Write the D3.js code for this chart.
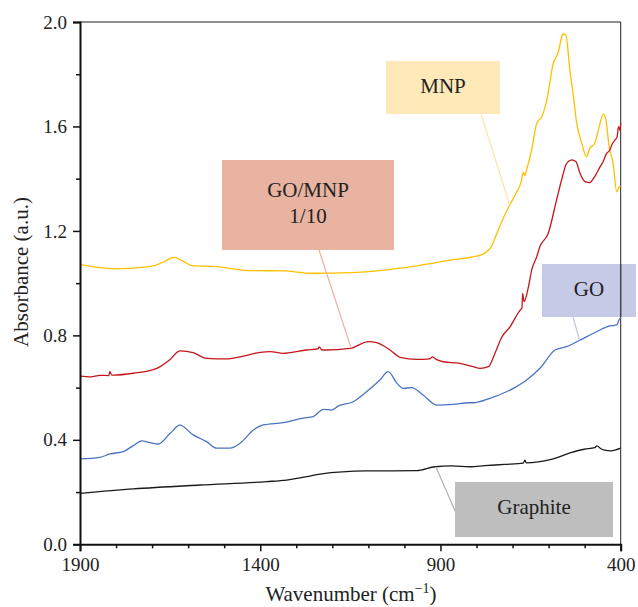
<!DOCTYPE html>
<html lang="en">
<head>
<meta charset="utf-8">
<script src="https://d3js.org/d3.v7.min.js"></script>
<style>
  body { margin: 0; background: #fff; }
</style>
</head>
<body>
<svg width="638" height="607" font-family="Liberation Serif"></svg>
<script>
// ---- data (wavenumber in cm-1, absorbance in a.u.) ----
var xTicks = [1900, 1400, 900, 400];
var yTicks = [0.0, 0.4, 0.8, 1.2, 1.6, 2.0];

var mnpWn  = [1900, 1854, 1798, 1706, 1665, 1641, 1615, 1590, 1521, 1428, 1337, 1254, 1150, 1055, 962, 870, 787, 772, 759, 745, 731, 708, 690, 676, 670, 666, 660, 647, 633, 619, 605, 587, 573, 562, 559, 552, 541, 531, 522, 508, 495, 486, 472, 462, 448, 441, 432, 421, 411, 404, 400];
var mnpAbs = [1.072, 1.061, 1.055, 1.063, 1.083, 1.099, 1.085, 1.067, 1.063, 1.048, 1.047, 1.038, 1.040, 1.050, 1.067, 1.089, 1.108, 1.120, 1.140, 1.185, 1.232, 1.299, 1.345, 1.389, 1.425, 1.412, 1.440, 1.510, 1.612, 1.637, 1.701, 1.842, 1.886, 1.950, 1.954, 1.950, 1.816, 1.714, 1.612, 1.536, 1.484, 1.516, 1.536, 1.586, 1.648, 1.625, 1.522, 1.459, 1.350, 1.369, 1.372];

var gomWn  = [1900, 1870, 1845, 1820, 1817, 1812, 1808, 1752, 1687, 1650, 1623, 1586, 1549, 1493, 1456, 1400, 1373, 1336, 1317, 1272, 1240, 1236, 1230, 1220, 1151, 1100, 1077, 1040, 1012, 966, 930, 922, 912, 892, 846, 809, 790, 767, 749, 730, 707, 679, 674, 672, 668, 656, 647, 633, 624, 601, 578, 564, 550, 536, 524, 513, 499, 486, 476, 472, 457, 450, 439, 430, 425, 416, 410, 406, 402, 400];
var gomAbs = [0.644, 0.641, 0.647, 0.646, 0.661, 0.648, 0.648, 0.655, 0.674, 0.708, 0.741, 0.734, 0.712, 0.710, 0.718, 0.735, 0.738, 0.731, 0.734, 0.744, 0.748, 0.756, 0.745, 0.744, 0.750, 0.776, 0.772, 0.744, 0.716, 0.708, 0.710, 0.718, 0.708, 0.699, 0.693, 0.680, 0.674, 0.680, 0.731, 0.793, 0.833, 0.897, 0.905, 0.961, 0.929, 0.986, 1.050, 1.101, 1.140, 1.191, 1.318, 1.395, 1.459, 1.472, 1.465, 1.421, 1.389, 1.385, 1.400, 1.408, 1.446, 1.462, 1.497, 1.510, 1.529, 1.548, 1.560, 1.599, 1.585, 1.612];

var goWn  = [1900, 1845, 1817, 1780, 1752, 1729, 1706, 1683, 1650, 1623, 1586, 1549, 1521, 1484, 1456, 1419, 1392, 1336, 1281, 1253, 1225, 1202, 1183, 1142, 1105, 1068, 1045, 1021, 1003, 980, 948, 911, 864, 823, 809, 763, 698, 661, 624, 582, 550, 513, 467, 430, 411, 402, 400];
var goAbs = [0.327, 0.333, 0.346, 0.355, 0.378, 0.396, 0.389, 0.384, 0.425, 0.456, 0.419, 0.393, 0.368, 0.368, 0.387, 0.438, 0.457, 0.466, 0.483, 0.489, 0.517, 0.514, 0.530, 0.546, 0.584, 0.629, 0.661, 0.617, 0.597, 0.600, 0.572, 0.533, 0.536, 0.542, 0.542, 0.559, 0.597, 0.629, 0.674, 0.744, 0.757, 0.782, 0.814, 0.836, 0.840, 0.865, 0.862];

var grWn  = [1900, 1752, 1567, 1382, 1327, 1271, 1234, 1105, 966, 915, 869, 818, 777, 722, 670, 666, 662, 593, 538, 501, 472, 466, 455, 445, 427, 400];
var grAbs = [0.195, 0.212, 0.227, 0.240, 0.246, 0.259, 0.269, 0.281, 0.282, 0.297, 0.300, 0.297, 0.301, 0.306, 0.311, 0.322, 0.312, 0.325, 0.351, 0.364, 0.370, 0.377, 0.366, 0.361, 0.358, 0.368];

var seriesNames  = ["MNP", "GO/MNP 1/10", "GO", "Graphite"];
var seriesColors = ["#FFC000", "#C4161C", "#4A72C4", "#1a1a1a"];

var FONT = "Liberation Serif";

// ---- layout ----
var svg = d3.select("svg");
var x = d3.scaleLinear().domain([1900, 400]).range([80, 620.7]);
var y = d3.scaleLinear().domain([0, 2]).range([544.3, 22]);

var line = d3.line()
  .x(function(d) { return x(d[0]); })
  .y(function(d) { return y(d[1]); })
  .curve(d3.curveMonotoneX);

function zip(a, b) { return a.map(function(v, i) { return [v, b[i]]; }); }
var series = [zip(mnpWn, mnpAbs), zip(gomWn, gomAbs), zip(goWn, goAbs), zip(grWn, grAbs)];

// frame (top / right thin)
svg.append("line").attr("x1", x(1900)).attr("x2", x(400)).attr("y1", y(2)).attr("y2", y(2))
  .attr("stroke", "#222").attr("stroke-width", 1);
svg.append("line").attr("x1", x(400)).attr("x2", x(400)).attr("y1", y(2)).attr("y2", y(0))
  .attr("stroke", "#222").attr("stroke-width", 1);

// curves
svg.selectAll(".curve")
  .data(series)
  .enter().append("path")
  .attr("class", "curve")
  .attr("fill", "none")
  .attr("stroke", function(d, i) { return seriesColors[i]; })
  .attr("stroke-width", 1.3)
  .attr("d", line);

// axes
svg.append("g").attr("transform", "translate(0," + y(0) + ")")
  .call(d3.axisBottom(x).tickValues(xTicks).tickSize(7).tickPadding(6).tickFormat(d3.format("d")));
svg.append("g").attr("transform", "translate(0," + y(0) + ")")
  .call(d3.axisBottom(x).tickValues([1800, 1700, 1600, 1500, 1300, 1200, 1100, 1000, 800, 700, 600, 500])
    .tickSize(4).tickFormat(""))
  .select(".domain").remove();

svg.append("g").attr("transform", "translate(" + x(1900) + ",0)")
  .call(d3.axisLeft(y).tickValues(yTicks).tickSize(7).tickPadding(6).tickFormat(d3.format(".1f")));
svg.append("g").attr("transform", "translate(" + x(1900) + ",0)")
  .call(d3.axisLeft(y).tickValues([0.2, 0.6, 1.0, 1.4, 1.8]).tickSize(4).tickFormat(""))
  .select(".domain").remove();

svg.selectAll("g").attr("font-family", FONT);
svg.selectAll(".domain").attr("stroke", "#111").attr("stroke-width", 2);
svg.selectAll(".tick line").attr("stroke", "#111").attr("stroke-width", 1.5);
svg.selectAll(".tick text").attr("font-size", 19).attr("fill", "#222").attr("font-family", FONT);

// axis titles
var xt = svg.append("text").attr("x", 351).attr("y", 601).attr("text-anchor", "middle")
  .attr("font-family", FONT).attr("fill", "#222").attr("font-size", 21);
xt.append("tspan").text("Wavenumber (cm");
xt.append("tspan").attr("font-size", 14).attr("dy", -8).text("\u22121");
xt.append("tspan").attr("dy", 8).text(")");

svg.append("text").attr("transform", "translate(28,272) rotate(-90)")
  .attr("font-family", FONT).attr("fill", "#222")
  .attr("text-anchor", "middle").attr("font-size", 21).text("Absorbance (a.u.)");

// annotation boxes
var boxes = [
  { x0: 386, y0: 61, w: 114, h: 53, fill: "#FFE9B9", stroke: "#FFE3A8", lines: ["MNP"], ty: [93],
    from: [481, 114], to: [708, 1.299] },
  { x0: 222, y0: 160, w: 172, h: 90, fill: "#E8B3A0", stroke: "#EBB09C", lines: ["GO/MNP", "1/10"], ty: [197, 223],
    from: [319, 250], to: [1148, 0.752] },
  { x0: 542, y0: 264, w: 94, h: 53, fill: "#C5CAE7", stroke: "#BFC5E6", lines: ["GO"], ty: [296],
    from: [573, 317], to: [514, 0.781] },
  { x0: 455, y0: 482, w: 158, h: 55, fill: "#BEBEBE", stroke: "#B0B0B0", lines: ["Graphite"], ty: [514],
    from: [456, 513], to: [913, 0.297] }
];

boxes.forEach(function(b) {
  svg.append("line")
    .attr("x1", b.from[0]).attr("y1", b.from[1])
    .attr("x2", x(b.to[0])).attr("y2", y(b.to[1]))
    .attr("stroke", b.stroke).attr("stroke-width", 1.2);
  svg.append("rect").attr("x", b.x0).attr("y", b.y0).attr("width", b.w).attr("height", b.h)
    .attr("fill", b.fill);
  b.lines.forEach(function(t, i) {
    svg.append("text").attr("x", b.x0 + b.w / 2).attr("y", b.ty[i])
      .attr("font-family", FONT).attr("fill", "#222")
      .attr("text-anchor", "middle").attr("font-size", 21).text(t);
  });
});

// right border drawn over GO box like the original
svg.append("line").attr("x1", x(400)).attr("x2", x(400)).attr("y1", 264).attr("y2", 317)
  .attr("stroke", "#444").attr("stroke-width", 1.5);
</script>
</body>
</html>
